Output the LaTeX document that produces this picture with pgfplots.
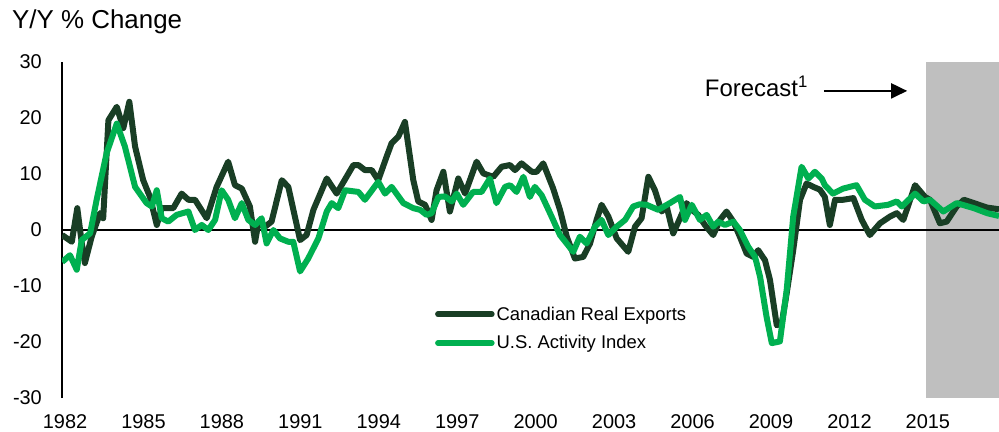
\documentclass[border=0pt]{standalone}
\usepackage{fontspec}
\setmainfont{Liberation Sans}
\usepackage{pgfplots}
\pgfplotsset{compat=1.18}
\usetikzlibrary{arrows.meta}
\definecolor{cadark}{RGB}{25,62,37}
\definecolor{usgreen}{RGB}{0,176,80}
\definecolor{fcgray}{RGB}{191,191,191}
\begin{document}
\begin{tikzpicture}
\path[use as bounding box] (0,0) rectangle (999bp,432bp);
\node[anchor=base west, inner sep=0pt, font=\fontsize{26}{30}\selectfont] at (12bp,403bp) {Y/Y \% Change};
\begin{axis}[
  at={(62bp,34bp)}, anchor=south west,
  scale only axis, width=937bp, height=336bp,
  xmin=1981.885, xmax=2017.72, ymin=-30, ymax=30,
  axis x line*=bottom, axis y line*=left,
  x axis line style={draw=none},
  y axis line style={black, line width=1.6bp, -},
  major tick length=0pt,
  xtick={1982,1985,...,2015},
  ytick={-30,-20,...,30},
  /pgf/number format/1000 sep={},
  /pgf/number format/assume math mode=true,
  ticklabel style={font=\fontsize{20}{24}\selectfont, inner sep=0pt},
  xticklabel style={anchor=north, yshift=-16bp},
  yticklabel style={anchor=east, xshift=-20bp},
  legend style={draw=none, fill=none, at={(0.398,0.278)}, anchor=north west,
    font=\fontsize{18.5}{22}\selectfont, inner sep=0pt, row sep=10bp,
    nodes={inner sep=2bp}},
  legend cell align=left,
  legend image code/.code={\draw[#1, line width=5.5bp, line cap=round] (0bp,0bp) -- (54bp,0bp);},
  line join=round,
]
\addplot[draw=none, fill=fcgray, forget plot] coordinates {(2014.93,-30) (2017.8,-30) (2017.8,30) (2014.93,30)} -- cycle;
\addplot[black, line width=1.8bp, forget plot] coordinates {(1981.885,0) (2017.72,0)};
\addplot[cadark, line width=6bp] coordinates {
(1981.89,-0.9) (1982.26,-2.1) (1982.47,3.9) (1982.64,-2.3) (1982.76,-5.9) (1983.02,-1.2) (1983.34,3.0) (1983.46,2.1) (1983.66,19.6) (1983.98,22.0) (1984.23,18.2) (1984.46,22.9) (1984.68,14.9) (1984.99,8.9) (1985.25,5.9) (1985.51,0.9) (1985.70,3.9) (1986.14,3.9) (1986.46,6.5) (1986.72,5.4) (1986.97,5.4) (1987.42,2.1) (1987.80,7.7) (1988.24,12.2) (1988.50,8.0) (1988.76,7.4) (1989.07,4.2) (1989.27,-2.1) (1989.39,1.2) (1989.65,0.6) (1989.90,1.5) (1990.29,8.9) (1990.54,7.7) (1990.99,-1.8) (1991.24,-0.9) (1991.50,3.6) (1992.01,9.2) (1992.39,6.5) (1993.03,11.6) (1993.22,11.6) (1993.47,10.7) (1993.73,10.7) (1993.98,8.9) (1994.30,13.1) (1994.49,15.5) (1994.75,16.7) (1995.00,19.3) (1995.32,8.9) (1995.51,5.1) (1995.77,4.5) (1996.02,1.8) (1996.21,7.1) (1996.47,10.4) (1996.72,3.3) (1997.04,9.2) (1997.30,6.5) (1997.74,12.2) (1998.00,10.1) (1998.38,9.5) (1998.70,11.3) (1999.02,11.6) (1999.21,10.7) (1999.46,11.9) (1999.85,10.4) (2000.04,10.4) (2000.29,11.9) (2000.67,7.4) (2000.93,3.6) (2001.19,-1.2) (2001.50,-5.1) (2001.82,-4.8) (2002.08,-2.4) (2002.33,1.8) (2002.52,4.5) (2002.78,2.4) (2003.10,-1.5) (2003.54,-3.9) (2003.80,0.6) (2004.05,2.1) (2004.31,9.5) (2004.56,7.1) (2004.82,3.3) (2005.01,4.2) (2005.26,-0.6) (2005.52,2.1) (2005.77,4.8) (2005.97,3.6) (2006.22,2.7) (2006.47,0.9) (2006.79,-0.9) (2007.05,1.8) (2007.30,3.3) (2007.56,1.5) (2007.81,-1.2) (2008.07,-4.2) (2008.32,-4.8) (2008.51,-3.6) (2008.77,-5.4) (2008.96,-8.9) (2009.22,-17.0) (2009.41,-16.7) (2009.60,-11.3) (2009.85,-3.6) (2010.11,5.4) (2010.36,8.3) (2010.62,7.7) (2010.87,7.2) (2011.06,5.9) (2011.25,0.9) (2011.45,5.4) (2011.76,5.4) (2012.15,5.7) (2012.47,1.8) (2012.78,-0.9) (2013.17,1.2) (2013.55,2.4) (2013.81,3.0) (2014.06,1.8) (2014.51,8.0) (2014.89,5.9) (2015.08,5.4) (2015.46,1.2) (2015.72,1.5) (2016.10,4.2) (2016.38,5.4) (2016.76,4.8) (2017.27,4.0) (2017.72,3.7)
};
\addlegendentry{Canadian Real Exports}
\addplot[usgreen, line width=6bp] coordinates {
(1981.89,-5.7) (1982.19,-4.5) (1982.45,-7.1) (1982.64,-1.8) (1982.96,-0.6) (1983.21,5.4) (1983.59,13.7) (1983.98,19.0) (1984.29,14.9) (1984.68,7.7) (1985.12,4.8) (1985.32,4.2) (1985.51,7.1) (1985.70,2.1) (1985.95,1.5) (1986.27,2.7) (1986.72,3.3) (1986.97,0.0) (1987.23,0.9) (1987.48,0.0) (1987.74,1.8) (1987.99,7.1) (1988.24,5.4) (1988.50,2.1) (1988.76,4.8) (1989.01,1.8) (1989.27,0.9) (1989.52,2.1) (1989.71,-2.4) (1989.97,0.0) (1990.22,-1.5) (1990.54,-2.1) (1990.73,-2.1) (1990.99,-7.4) (1991.30,-5.1) (1991.69,-1.5) (1992.01,3.3) (1992.20,4.8) (1992.45,3.9) (1992.71,7.1) (1993.22,6.8) (1993.47,5.4) (1993.98,8.6) (1994.24,6.5) (1994.49,7.7) (1994.94,4.8) (1995.32,3.9) (1995.58,3.6) (1995.83,2.7) (1996.02,3.0) (1996.28,5.9) (1996.53,6.0) (1996.79,5.1) (1996.98,6.5) (1997.23,4.5) (1997.61,6.8) (1997.93,6.8) (1998.25,9.2) (1998.50,4.8) (1998.83,7.7) (1999.02,8.0) (1999.27,6.8) (1999.53,9.5) (1999.78,5.9) (1999.97,7.7) (2000.23,6.2) (2000.55,3.0) (2000.93,-0.9) (2001.44,-3.9) (2001.69,-1.2) (2001.95,-2.4) (2002.27,0.6) (2002.52,1.8) (2002.78,-0.9) (2003.10,0.6) (2003.42,1.8) (2003.73,4.2) (2003.99,4.6) (2004.24,4.5) (2004.69,3.6) (2005.13,4.8) (2005.52,5.9) (2005.71,1.8) (2005.97,4.5) (2006.28,1.8) (2006.54,2.7) (2006.79,0.6) (2006.98,1.5) (2007.24,0.9) (2007.56,1.5) (2007.81,0.0) (2008.13,-3.0) (2008.39,-4.8) (2008.58,-8.3) (2008.83,-15.5) (2009.03,-20.2) (2009.34,-19.9) (2009.60,-10.7) (2009.85,2.4) (2010.17,11.3) (2010.43,9.2) (2010.68,10.4) (2010.94,9.2) (2011.06,8.0) (2011.37,6.5) (2011.76,7.4) (2012.27,8.0) (2012.59,5.4) (2012.97,4.2) (2013.48,4.5) (2013.81,5.1) (2014.00,4.2) (2014.51,6.5) (2014.83,5.1) (2015.08,5.4) (2015.59,3.3) (2016.10,4.8) (2016.76,3.9) (2017.27,3.0) (2017.72,2.5)
};
\addlegendentry{U.S. Activity Index}
\node[anchor=base west, inner sep=0pt, font=\fontsize{24}{28}\selectfont] at (rel axis cs:0.686,0.896) {Forecast\textsuperscript{1}};
\draw[line width=2bp, -{Triangle[length=16bp,width=15bp]}] (rel axis cs:0.813,0.914) -- (rel axis cs:0.902,0.914);
\end{axis}
\end{tikzpicture}
\end{document}
